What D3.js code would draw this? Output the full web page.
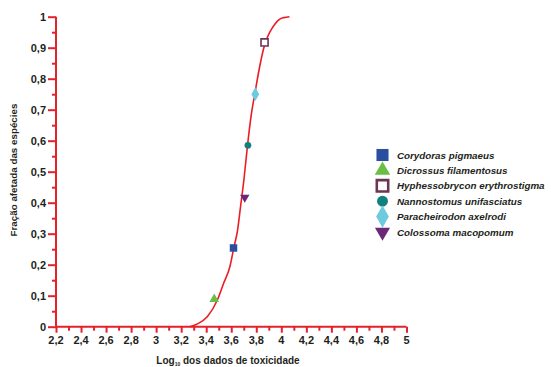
<!DOCTYPE html>
<html>
<head>
<meta charset="utf-8">
<script src="https://cdn.jsdelivr.net/npm/d3@7"></script>
<style>
  body { margin: 0; background: #fff; }
  text { font-family: "Liberation Sans", Arial, sans-serif; }
</style>
</head>
<body>
<div id="chart"></div>
<script>
// curva ajustada
const curveX = [3.27, 3.33, 3.41, 3.49, 3.54, 3.59, 3.62, 3.65, 3.675, 3.70, 3.73, 3.76, 3.79, 3.82, 3.86, 3.89, 3.93, 3.98, 4.02, 4.065];
const curveY = [0.0, 0.009, 0.033, 0.087, 0.141, 0.195, 0.254, 0.31, 0.39, 0.47, 0.585, 0.684, 0.755, 0.824, 0.899, 0.935, 0.965, 0.99, 0.997, 1.0];

// espécies
const species = ["Corydoras pigmaeus", "Dicrossus filamentosus", "Hyphessobrycon erythrostigma",
  "Nannostomus unifasciatus", "Paracheirodon axelrodi", "Colossoma macopomum"];
const speciesX = [3.618, 3.464, 3.866, 3.733, 3.792, 3.708];
const speciesY = [0.254, 0.089, 0.917, 0.585, 0.75, 0.417];

const xTicks = [2.2, 2.4, 2.6, 2.8, 3, 3.2, 3.4, 3.6, 3.8, 4, 4.2, 4.4, 4.6, 4.8, 5];
const yTicks = [0, 0.1, 0.2, 0.3, 0.4, 0.5, 0.6, 0.7, 0.8, 0.9, 1];

const width = 551, height = 367;
const red = "#e4222b";
const fmt = d => String(d).replace(".", ",");

const svg = d3.select("#chart").append("svg")
  .attr("width", width).attr("height", height);

const x = d3.scaleLinear().domain([2.2, 5]).range([56, 406.5]);
const y = d3.scaleLinear().domain([0, 1]).range([326.7, 16.7]);

// eixo x
const xAxis = svg.append("g").attr("transform", `translate(0,${y(0)})`);
xAxis.call(d3.axisBottom(x).tickValues(d3.range(22, 51).map(d => d / 10)).tickSize(4).tickFormat(""));
xAxis.call(g => g.selectAll(".tick line").filter(d => Math.round(d * 10) % 2 === 0).attr("y2", 6));
xAxis.selectAll("path, line").attr("stroke", red).attr("stroke-width", 2);
xAxis.select("path").attr("d", `M${x(2.2)},0H${x(5)}`);
svg.append("g").selectAll("text").data(xTicks).enter().append("text")
  .attr("x", d => x(d)).attr("y", y(0) + 17)
  .attr("text-anchor", "middle")
  .attr("font-size", "11px").attr("font-weight", "bold").attr("fill", "#231f20")
  .text(fmt);

// eixo y
const yAxis = svg.append("g").attr("transform", `translate(${x(2.2)},0)`);
yAxis.call(d3.axisLeft(y).tickValues(d3.range(0, 21).map(d => d / 20)).tickSize(4).tickFormat(""));
yAxis.call(g => g.selectAll(".tick line").filter(d => Math.round(d * 20) % 2 === 0).attr("x2", -8));
yAxis.selectAll("path, line").attr("stroke", red).attr("stroke-width", 2);
yAxis.select("path").attr("d", `M0,${y(0)}V${y(1)}`);
svg.append("g").selectAll("text").data(yTicks).enter().append("text")
  .attr("x", x(2.2) - 10).attr("y", d => y(d) + 4)
  .attr("text-anchor", "end")
  .attr("font-size", "11px").attr("font-weight", "bold").attr("fill", "#231f20")
  .text(fmt);

// títulos
const xTitle = svg.append("text")
  .attr("x", 228).attr("y", 364)
  .attr("text-anchor", "middle")
  .attr("font-size", "10px").attr("font-weight", "bold").attr("fill", "#231f20");
xTitle.append("tspan").text("Log");
xTitle.append("tspan").attr("font-size", "5px").attr("dy", 2).text("10");
xTitle.append("tspan").attr("dy", -2).text(" dos dados de toxicidade");

svg.append("text")
  .attr("transform", `translate(17,170) rotate(-90)`)
  .attr("text-anchor", "middle")
  .attr("font-size", "9.8px").attr("font-weight", "bold").attr("fill", "#231f20")
  .text("Fração afetada das espécies");

// curva
const curveData = curveX.map((d, i) => [d, curveY[i]]);
svg.append("path")
  .datum(curveData)
  .attr("fill", "none").attr("stroke", "#ec1c24").attr("stroke-width", 1.6)
  .attr("d", d3.line().x(d => x(d[0])).y(d => y(d[1])).curve(d3.curveMonotoneX));

// símbolos
const styles = [
  { type: d3.symbolSquare, fill: "#2a4f9e", stroke: "none" },
  { type: d3.symbolTriangle, fill: "#6abd45", stroke: "none" },
  { type: d3.symbolSquare, fill: "#fff", stroke: "#6b3555" },
  { type: d3.symbolCircle, fill: "#12807e", stroke: "none" },
  { type: d3.symbolDiamond, fill: "#6dcbdd", stroke: "none" },
  { type: d3.symbolTriangle, fill: "#6a2977", stroke: "none", flip: true }
];

function drawSymbol(g, i, cx, cy, scale) {
  const s = styles[i];
  const sizes = [56, 40, 50, 36, 54, 38];
  g.append("path")
    .attr("d", d3.symbol().type(s.type).size(sizes[i] * scale)())
    .attr("transform", `translate(${cx},${cy})` + (s.flip ? " rotate(180)" : ""))
    .attr("fill", s.fill)
    .attr("stroke", s.stroke)
    .attr("stroke-width", s.stroke === "none" ? 0 : 1.6 * Math.sqrt(scale));
}

const pts = svg.append("g");
species.forEach((name, i) => drawSymbol(pts, i, x(speciesX[i]), y(speciesY[i]), 1));

// legenda
const legend = svg.append("g");
species.forEach((name, i) => {
  const ly = 155 + i * 15.4;
  drawSymbol(legend, i, 382.5, ly, 2.6);
  legend.append("text")
    .attr("x", 397).attr("y", ly + 3.5)
    .attr("font-size", "9.8px").attr("font-weight", "bold").attr("font-style", "italic")
    .attr("fill", "#231f20")
    .text(name);
});
</script>
</body>
</html>
